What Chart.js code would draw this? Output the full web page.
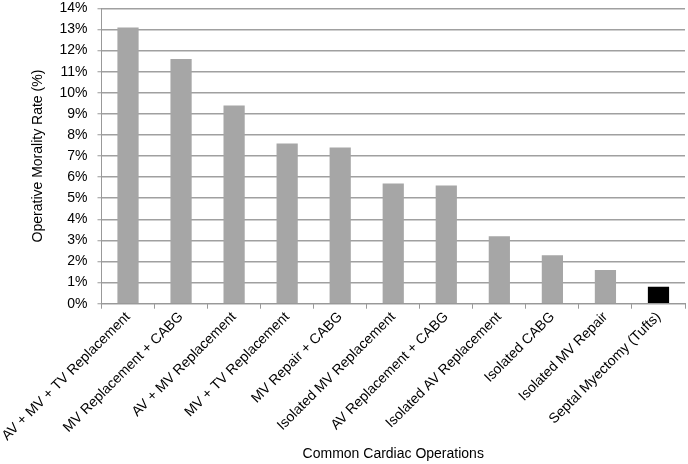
<!DOCTYPE html>
<html>
<head>
<meta charset="utf-8">
<script src="https://cdn.jsdelivr.net/npm/chart.js@4"></script>
<style>
  html, body { margin: 0; padding: 0; background: #fff; }
  #wrap { width: 688px; height: 464px; }
</style>
</head>
<body>
<div id="wrap"><canvas id="myChart" width="688" height="464"></canvas></div>
<script>
const operations = [
    'AV + MV + TV Replacement',
    'MV Replacement + CABG',
    'AV + MV Replacement',
    'MV + TV Replacement',
    'MV Repair + CABG',
    'Isolated MV Replacement',
    'AV Replacement + CABG',
    'Isolated AV Replacement',
    'Isolated CABG',
    'Isolated MV Repair',
    'Septal Myectomy (Tufts)'
];
const mortality = [13.1, 11.6, 9.4, 7.6, 7.4, 5.7, 5.6, 3.2, 2.3, 1.6, 0.8];
const barColors = ['#a6a6a6', '#a6a6a6', '#a6a6a6', '#a6a6a6', '#a6a6a6', '#a6a6a6',
    '#a6a6a6', '#a6a6a6', '#a6a6a6', '#a6a6a6', '#000000'];
const yMin = 0, yMax = 14, yStep = 1;

Chart.defaults.font.family = '"Liberation Sans", Arial, sans-serif';
Chart.defaults.color = '#000';

const ctx = document.getElementById('myChart');

new Chart(ctx, {
    type: 'bar',
    data: {
        labels: operations,
        datasets: [{
            label: 'Operative Morality Rate',
            data: mortality,
            backgroundColor: barColors,
            categoryPercentage: 1,
            barPercentage: 0.4
        }]
    },
    options: {
        responsive: false,
        animation: false,
        layout: { padding: { top: 0, right: 3, left: 0, bottom: 1 } },
        plugins: {
            legend: { display: false },
            tooltip: { enabled: false }
        },
        scales: {
            x: {
                grid: {
                    display: true,
                    drawOnChartArea: false,
                    offset: true,
                    color: '#999',
                    tickLength: 5
                },
                border: { color: '#999', width: 1 },
                ticks: {
                    font: { size: 14 },
                    maxRotation: 45,
                    minRotation: 45,
                    padding: 0,
                    autoSkip: false
                },
                title: {
                    display: true,
                    text: 'Common Cardiac Operations',
                    font: { size: 14 },
                    padding: { top: 2, bottom: 0 }
                }
            },
            y: {
                min: yMin,
                max: yMax,
                grid: {
                    color: '#a0a0a0',
                    lineWidth: 1.5,
                    // long tick keeps labels away from the axis, only the 4px next to the axis is drawn
                    tickLength: 14,
                    tickColor: '#999',
                    tickWidth: 1,
                    tickBorderDash: [0, 10, 4, 0]
                },
                border: { color: '#999', width: 1 },
                ticks: {
                    stepSize: yStep,
                    font: { size: 14 },
                    padding: 0,
                    callback: v => v + '%'
                },
                title: {
                    display: true,
                    text: 'Operative Morality Rate (%)',
                    font: { size: 14 },
                    padding: { top: 25, bottom: 13 }
                }
            }
        }
    }
});
</script>
</body>
</html>
